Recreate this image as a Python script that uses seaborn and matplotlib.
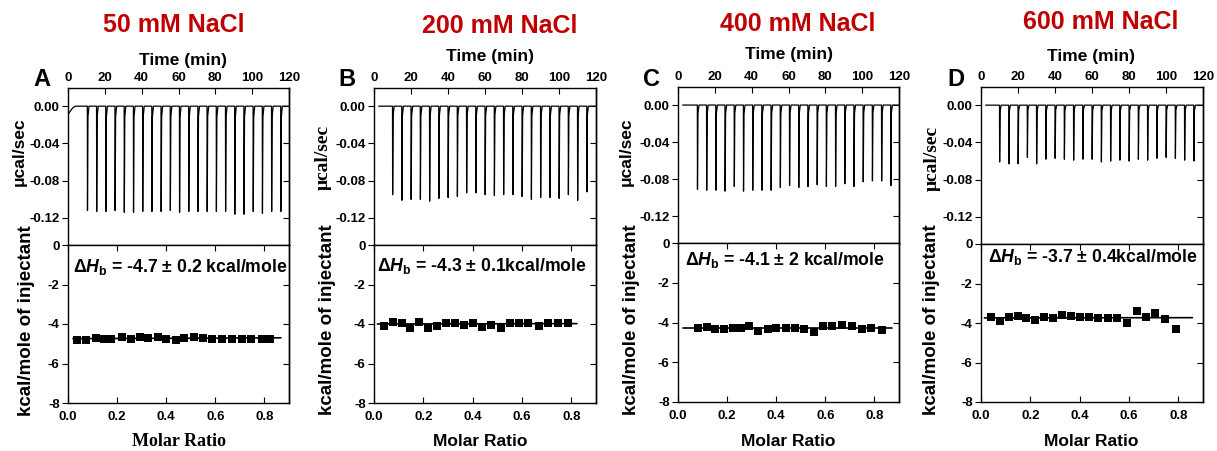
import numpy as np
import pandas as pd
import matplotlib
matplotlib.use("Agg")
import matplotlib.pyplot as plt
import seaborn as sns

# ---- data ----
titles = ["50 mM NaCl", "200 mM NaCl", "400 mM NaCl", "600 mM NaCl"]
letters = ["A", "B", "C", "D"]
dh_text = ["-4.7 ± 0.2 kcal/mole", "-4.3 ± 0.1kcal/mole",
           "-4.1 ± 2 kcal/mole", "-3.7 ± 0.4kcal/mole"]

# raw thermograms: injection times (min) and peak depths (ucal/sec)
inj_t_A = [10.5, 15.5, 20.5, 25.5, 30.5, 35.5, 40.5, 45.5, 50.5, 55.5, 60.5,
           65.5, 70.5, 75.5, 80.5, 85.5, 90.5, 95.5, 100.5, 105.5, 110.5, 115.5]
inj_t_B = [10, 15, 20, 25, 30, 35, 40, 45, 50, 55, 60,
           65, 70, 75, 80, 85, 90, 95, 100, 105, 110, 115]
inj_t_C = [10.5, 15.5, 20.5, 25.5, 30.5, 35.5, 40.5, 45.5, 50.5, 55.5, 60.5,
           65.5, 70.5, 75.5, 80.5, 85.5, 90.5, 95.5, 100.5, 105.5, 110.5, 115.5]
inj_t_D = [10, 15, 20, 25, 30, 35, 40, 45, 50, 55, 60,
           65, 70, 75, 80, 85, 90, 95, 100, 105, 110, 115]

peak_A = [-0.112, -0.113, -0.113, -0.112, -0.114, -0.114, -0.113, -0.113, -0.113, -0.112, -0.114,
          -0.113, -0.113, -0.113, -0.113, -0.113, -0.116, -0.116, -0.113, -0.115, -0.113, -0.113]
peak_B = [-0.095, -0.101, -0.100, -0.100, -0.102, -0.099, -0.098, -0.097, -0.093, -0.093, -0.095,
          -0.096, -0.095, -0.095, -0.097, -0.100, -0.098, -0.098, -0.099, -0.095, -0.101, -0.092]
peak_C = [-0.091, -0.092, -0.092, -0.093, -0.088, -0.093, -0.092, -0.092, -0.092, -0.089, -0.087,
          -0.089, -0.088, -0.086, -0.088, -0.088, -0.085, -0.088, -0.083, -0.082, -0.082, -0.087]
peak_D = [-0.061, -0.063, -0.063, -0.056, -0.063, -0.058, -0.057, -0.058, -0.059, -0.058, -0.058,
          -0.061, -0.060, -0.059, -0.060, -0.058, -0.059, -0.057, -0.056, -0.057, -0.059, -0.060]

# baseline start (drift before first injection)
base_t_A = [0, 1, 2.5, 4]
base_y_A = [-0.009, -0.006, -0.002, 0.0]
base_t_BCD = [2.5]
base_y_BCD = [0.0]

# integrated heats: molar ratio vs kcal/mole of injectant
mr_A = [0.038, 0.075, 0.113, 0.147, 0.177, 0.218, 0.256, 0.293, 0.327, 0.365, 0.401,
        0.438, 0.473, 0.514, 0.551, 0.588, 0.626, 0.667, 0.707, 0.746, 0.789, 0.824]
dh_A = [-4.83, -4.83, -4.71, -4.74, -4.78, -4.66, -4.74, -4.67, -4.71, -4.67, -4.74,
        -4.83, -4.71, -4.64, -4.71, -4.76, -4.78, -4.78, -4.78, -4.78, -4.78, -4.78]
mr_B = [0.041, 0.075, 0.112, 0.147, 0.181, 0.218, 0.254, 0.290, 0.327, 0.365, 0.401,
        0.438, 0.476, 0.514, 0.551, 0.588, 0.626, 0.667, 0.707, 0.745, 0.786]
dh_B = [-4.08, -3.88, -3.97, -4.20, -3.88, -4.18, -4.12, -3.95, -3.95, -4.05, -3.97,
        -4.17, -4.05, -4.20, -3.95, -3.95, -3.97, -4.12, -3.95, -3.97, -3.97]
mr_C = [0.082, 0.120, 0.152, 0.188, 0.222, 0.256, 0.290, 0.327, 0.365, 0.401, 0.438,
        0.476, 0.514, 0.552, 0.592, 0.629, 0.669, 0.707, 0.748, 0.786, 0.830]
dh_C = [-4.29, -4.22, -4.32, -4.32, -4.29, -4.29, -4.20, -4.42, -4.32, -4.29, -4.29,
        -4.29, -4.32, -4.49, -4.16, -4.19, -4.12, -4.16, -4.32, -4.26, -4.39]
mr_D = [0.041, 0.078, 0.112, 0.150, 0.184, 0.218, 0.256, 0.293, 0.327, 0.365, 0.401,
        0.438, 0.476, 0.514, 0.551, 0.592, 0.633, 0.669, 0.707, 0.746, 0.789]
dh_D = [-3.68, -3.88, -3.68, -3.65, -3.76, -3.85, -3.68, -3.76, -3.59, -3.65, -3.68,
        -3.71, -3.76, -3.76, -3.76, -4.02, -3.38, -3.71, -3.48, -3.81, -4.32]

# fitted lines (end points)
fit_x_A, fit_y_A = [0.02, 0.867], [-4.74, -4.70]
fit_x_B, fit_y_B = [0.014, 0.823], [-4.00, -3.98]
fit_x_C, fit_y_C = [0.02, 0.871], [-4.26, -4.26]
fit_x_D, fit_y_D = [0.014, 0.857], [-3.74, -3.73]

time_lim = [(0, 120), (2, 120), (1.6, 120), (2, 120)]

# ---- layout (pixel positions in a 1217x451 canvas) ----
W, H = 1217, 451
panel_px = [(68, 221, 88, 245, 403), (374, 222, 88, 245, 403),
            (678, 221, 87, 243, 402), (981, 222, 87, 244, 402)]

sns.set_style("ticks")
plt.rcParams["font.family"] = ["Liberation Sans", "DejaVu Sans"]
plt.rcParams["font.weight"] = "bold"
plt.rcParams["mathtext.fontset"] = "custom"
plt.rcParams["mathtext.rm"] = "Liberation Sans:bold"
plt.rcParams["mathtext.it"] = "Liberation Sans:italic:bold"
plt.rcParams["mathtext.bf"] = "Liberation Sans:bold"
plt.rcParams["axes.linewidth"] = 1.0
plt.rcParams["axes.unicode_minus"] = False
for key in ["text.color", "axes.labelcolor", "xtick.color", "ytick.color", "axes.edgecolor"]:
    plt.rcParams[key] = "black"

fig = plt.figure(figsize=(W / 100, H / 100), dpi=100)


def fx(px):
    return px / W


def fy(py):
    return 1 - py / H


def trace(base_t, base_y, inj_t, peaks, t_end):
    xs, ys = list(base_t), list(base_y)
    for t, d in zip(inj_t, peaks):
        xs += [t, t + 0.08, t + 0.35, t + 0.9]
        ys += [0.0, d, d * 0.1, 0.0]
    xs.append(t_end)
    ys.append(0.0)
    return pd.DataFrame({"t": xs, "p": ys})


traces = [(base_t_A, base_y_A, inj_t_A, peak_A), (base_t_BCD, base_y_BCD, inj_t_B, peak_B),
          (base_t_BCD, base_y_BCD, inj_t_C, peak_C), (base_t_BCD, base_y_BCD, inj_t_D, peak_D)]
points = [(mr_A, dh_A), (mr_B, dh_B), (mr_C, dh_C), (mr_D, dh_D)]
fits = [(fit_x_A, fit_y_A), (fit_x_B, fit_y_B), (fit_x_C, fit_y_C), (fit_x_D, fit_y_D)]

serif_ylab = [False, True, False, True]
serif_xlab = [True, False, False, False]
title_pos = [(174, 25), (500, 26), (798, 24), (1101, 22)]
time_pos = [(183, 60), (490, 57), (789, 54), (1091, 56)]
letter_pos = [(42, 80), (347, 79), (652, 79), (956, 79)]
ucal_pos = [(19, 152), (323, 157), (626, 152), (932, 158)]
kcal_pos = [(27, 321), (327, 320), (632, 320), (932, 320)]
molar_pos = [(179, 442), (480, 442), (788, 442), (1091, 442)]
dh_pos = [(73, 267), (377, 266), (685, 260), (988, 257)]

for i in range(4):
    left, width, top, mid, bot = panel_px[i]
    ax1 = fig.add_axes([fx(left), fy(mid), width / W, (mid - top) / H])
    ax2 = fig.add_axes([fx(left), fy(bot), width / W, (bot - mid) / H])

    # raw heat trace
    bt, by, it, pk = traces[i]
    df = trace(bt, by, it, pk, time_lim[i][1])
    sns.lineplot(data=df, x="t", y="p", sort=False, estimator=None,
                 color="black", lw=0.9, ax=ax1)
    ax1.set_xlim(*time_lim[i])
    ax1.set_ylim(-0.149, 0.0195)
    ax1.set_xticks([0, 20, 40, 60, 80, 100, 120])
    ax1.set_yticks([0.0, -0.04, -0.08, -0.12])
    ax1.set_yticklabels(["0.00", "-0.04", "-0.08", "-0.12"])
    ax1.xaxis.tick_top()
    ax1.tick_params(axis="x", which="both", top=True, bottom=False, labeltop=True,
                    labelbottom=False, direction="in", length=4, pad=3, labelsize=9.5)
    ax1.tick_params(axis="y", left=True, right=False, direction="out",
                    length=4, pad=2, labelsize=9.5)
    ax1.set_xlabel("")
    ax1.set_ylabel("")
    for s in ax1.spines.values():
        s.set_visible(True)
        s.set_color("black")
    ax1r = ax1.secondary_yaxis("right")
    ax1r.set_yticks([0.0, -0.04, -0.08, -0.12])
    ax1r.tick_params(direction="in", length=4, labelright=False)

    # integrated heats
    mr, dh = points[i]
    sns.scatterplot(x=mr, y=dh, marker="s", s=26, color="black",
                    edgecolor="black", linewidth=0, ax=ax2, zorder=3)
    fxs, fys = fits[i]
    sns.lineplot(x=fxs, y=fys, color="black", lw=1.2, ax=ax2)
    ax2.set_xlim(0, 0.9)
    ax2.set_ylim(-8, 0)
    ax2.set_xticks([0.0, 0.2, 0.4, 0.6, 0.8])
    ax2.set_xticklabels(["0.0", "0.2", "0.4", "0.6", "0.8"])
    ax2.set_yticks([0, -2, -4, -6, -8])
    ax2.tick_params(axis="x", top=True, bottom=True, labeltop=False,
                    direction="in", length=4, pad=6, labelsize=9.5)
    ax2.tick_params(axis="y", left=True, direction="out", length=4, pad=2, labelsize=9.5)
    for s in ax2.spines.values():
        s.set_visible(True)
        s.set_color("black")
    ax2r = ax2.secondary_yaxis("right")
    ax2r.set_yticks([0, -2, -4, -6, -8])
    ax2r.tick_params(direction="in", length=4, labelright=False)

    # texts
    fig.text(fx(title_pos[i][0]), fy(title_pos[i][1]), titles[i], color="#C00000",
             fontsize=18, fontweight="bold", ha="center", va="center")
    fig.text(fx(time_pos[i][0]), fy(time_pos[i][1]), "Time (min)",
             fontsize=12.5, fontweight="bold", ha="center", va="center")
    fig.text(fx(letter_pos[i][0]), fy(letter_pos[i][1]), letters[i],
             fontsize=17, fontweight="bold", ha="center", va="center")
    if serif_ylab[i]:
        fig.text(fx(ucal_pos[i][0]), fy(ucal_pos[i][1]), "μcal/sec", family=["Liberation Serif"],
                 fontsize=14, fontweight="bold", rotation=90, ha="center", va="center")
    else:
        fig.text(fx(ucal_pos[i][0]), fy(ucal_pos[i][1]), "μcal/sec", family=["Liberation Sans"],
                 fontsize=12.5, fontweight="bold", rotation=90, ha="center", va="center")
    fig.text(fx(kcal_pos[i][0]), fy(kcal_pos[i][1]), "kcal/mole of injectant",
             fontsize=13.5, fontweight="bold", rotation=90, ha="center", va="center")
    if serif_xlab[i]:
        fig.text(fx(molar_pos[i][0]), fy(molar_pos[i][1]), "Molar Ratio", family=["Liberation Serif"],
                 fontsize=13, fontweight="bold", ha="center", va="center")
    else:
        fig.text(fx(molar_pos[i][0]), fy(molar_pos[i][1]), "Molar Ratio", family=["Liberation Sans"],
                 fontsize=12.5, fontweight="bold", ha="center", va="center")
    fig.text(fx(dh_pos[i][0]), fy(dh_pos[i][1]),
             "Δ$\\mathit{H}_{\\mathrm{b}}$ = " + dh_text[i],
             fontsize=12.7, fontweight="bold", ha="left", va="center")

fig.savefig("out.png", dpi=100)
